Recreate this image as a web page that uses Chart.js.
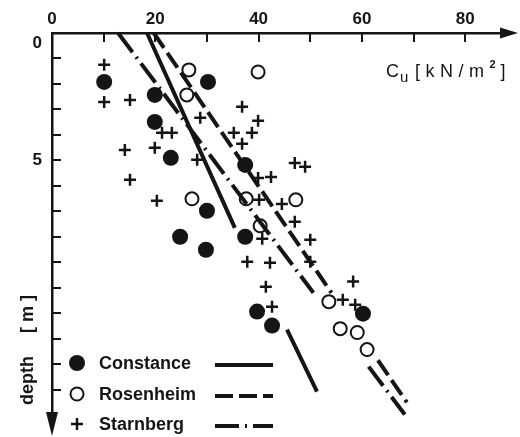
<!DOCTYPE html>
<html>
<head>
<meta charset="utf-8">
<script src="https://cdn.jsdelivr.net/npm/chart.js@4.4.1/dist/chart.umd.min.js"></script>
<style>
  body { margin: 0; background: #fff; }
  #wrap { width: 520px; height: 437px; }
</style>
</head>
<body>
<div id="wrap"><canvas id="cuChart"></canvas></div>
<script>
// undrained shear strength Cu [kN/m2] against depth [m]
const xLabelTicks = [0, 20, 40, 60, 80];
const yLabelTicks = [0, 5];

const constanceCu    = [10.1, 19.9, 30.2, 19.9, 23.0, 37.4, 30.0, 24.8, 37.4, 29.8, 39.7, 42.6, 60.2];
const constanceDepth = [1.92, 2.43, 1.92, 3.49, 4.90, 5.18, 6.98, 8.00, 8.00, 8.51, 10.94, 11.49, 11.02];

const rosenheimCu    = [26.5, 26.1, 39.9, 27.1, 37.6, 47.2, 40.3, 53.6, 55.8, 59.1, 61.0];
const rosenheimDepth = [1.45, 2.43, 1.53, 6.51, 6.51, 6.55, 7.57, 10.55, 11.61, 11.76, 12.43];

const starnbergCu    = [10.1, 10.1, 15.1, 36.8, 28.7, 39.9, 21.3, 23.2, 35.2, 38.7, 36.8, 14.1, 19.9, 28.1, 47.0, 49.0, 15.1,
                        39.9, 42.4, 20.3, 40.1, 44.5, 47.0, 40.7, 50.0, 37.8, 42.2, 50.0, 41.4, 42.6, 58.3, 56.3, 58.7];
const starnbergDepth = [1.25, 2.71, 2.63, 2.90, 3.33, 3.45, 3.92, 3.92, 3.92, 3.92, 4.35, 4.59, 4.51, 4.98, 5.10, 5.25, 5.76,
                        5.69, 5.65, 6.59, 6.55, 6.71, 7.41, 8.08, 8.12, 8.98, 9.02, 8.98, 9.96, 10.75, 9.76, 10.47, 10.67];

// trend lines, null = break in the line
const constanceLineCu    = [18.4, 35.4, null, 45.5, 51.3];
const constanceLineDepth = [0, 7.65, null, 11.65, 14.08];
const rosenheimLineCu    = [19.7, 54.1, null, 63.1, 68.7];
const rosenheimLineDepth = [0, 10.2, null, 12.85, 14.5];
const starnbergLineCu    = [12.8, 50.6, null, 61.3, 68.3];
const starnbergLineDepth = [0, 10.2, null, 13.1, 14.98];

const ink = '#151515';
const font = '"Liberation Sans", Arial, sans-serif';

const pts = (xs, ys) => xs.map((x, i) => ({ x: x, y: ys[i] }));

const markerStyles = [
  { label: 'Constance', pointStyle: 'circle', pointRadius: 8, pointBackgroundColor: ink, pointBorderWidth: 0 },
  { label: 'Rosenheim', pointStyle: 'circle', pointRadius: 6.5, pointBackgroundColor: 'rgba(0,0,0,0)', pointBorderWidth: 2 },
  { label: 'Starnberg', pointStyle: 'cross', pointRadius: 6, pointBackgroundColor: ink, pointBorderWidth: 2.5 }
];
const lineDashes = [[], [18, 6], [24, 6, 2, 6]];

function markerSet(i, xs, ys) {
  return Object.assign({
    type: 'scatter',
    data: pts(xs, ys),
    pointBorderColor: ink,
    showLine: false
  }, markerStyles[i]);
}

function lineSet(i, xs, ys) {
  return {
    type: 'line',
    label: markerStyles[i].label + ' line',
    data: pts(xs, ys),
    borderColor: ink,
    borderWidth: 4,
    borderDash: lineDashes[i],
    pointRadius: 0,
    spanGaps: false,
    clip: false
  };
}

// ticks pointing inwards, arrows, axis titles and legend
const decor = {
  id: 'decor',
  beforeDatasetsDraw(chart) {
    const { ctx, chartArea: a, scales: { x, y } } = chart;
    ctx.save();
    ctx.strokeStyle = ink;
    ctx.lineWidth = 2;
    ctx.beginPath();
    for (let v = 10; v <= 80; v += 10) {
      const px = Math.round(x.getPixelForValue(v));
      ctx.moveTo(px, a.top); ctx.lineTo(px, a.top + 9);
    }
    for (let d = 1; d <= 14; d++) {
      const py = Math.round(y.getPixelForValue(d));
      ctx.moveTo(a.left, py); ctx.lineTo(a.left + 9, py);
    }
    ctx.stroke();
    ctx.restore();
  },
  afterDraw(chart) {
    const { ctx, chartArea: a } = chart;
    ctx.save();
    ctx.fillStyle = ink;
    ctx.strokeStyle = ink;

    // arrow heads
    ctx.lineWidth = 2.5;
    ctx.beginPath();
    ctx.moveTo(a.right - 2, a.top); ctx.lineTo(a.right + 2, a.top);
    ctx.moveTo(a.left, a.bottom - 2); ctx.lineTo(a.left, a.bottom + 2);
    ctx.stroke();
    ctx.beginPath();
    ctx.moveTo(a.right - 5, a.top - 5.5); ctx.lineTo(a.right + 13, a.top); ctx.lineTo(a.right - 5, a.top + 5.5);
    ctx.closePath(); ctx.fill();
    ctx.beginPath();
    ctx.moveTo(a.left - 6, a.bottom - 3); ctx.lineTo(a.left, a.bottom + 21); ctx.lineTo(a.left + 6, a.bottom - 3);
    ctx.closePath(); ctx.fill();

    // x title: Cu [kN/m2]
    ctx.textBaseline = 'alphabetic';
    ctx.textAlign = 'left';
    ctx.font = '18px ' + font;
    ctx.fillText('C', 386, 77);
    ctx.font = '15px ' + font;
    ctx.fillText('u', 400, 82);
    ctx.font = '18px ' + font;
    ctx.letterSpacing = '5.5px';
    ctx.fillText('[kN/m', 415, 77);
    let tx = 415 + ctx.measureText('[kN/m').width;
    ctx.letterSpacing = '0px';
    ctx.font = 'bold 11px ' + font;
    ctx.fillText('2', tx, 68);
    ctx.font = '18px ' + font;
    ctx.fillText(']', tx + 11, 77);

    // y title, rotated
    ctx.save();
    ctx.translate(33, 0);
    ctx.rotate(-Math.PI / 2);
    ctx.font = 'bold 18px ' + font;
    ctx.fillText('depth', -405, 0);
    ctx.fillText('[ m ]', -333, 0);
    ctx.restore();

    // legend: marker, name and line sample for each site
    const rows = [363, 394, 424];
    ctx.font = 'bold 18px ' + font;
    ctx.textBaseline = 'middle';
    markerStyles.forEach((m, i) => {
      const ry = rows[i];
      ctx.lineWidth = m.pointBorderWidth;
      if (m.pointStyle === 'cross') {
        ctx.beginPath();
        ctx.moveTo(77 - m.pointRadius, ry); ctx.lineTo(77 + m.pointRadius, ry);
        ctx.moveTo(77, ry - m.pointRadius); ctx.lineTo(77, ry + m.pointRadius);
        ctx.stroke();
      } else {
        ctx.beginPath();
        ctx.arc(77, ry, m.pointRadius, 0, Math.PI * 2);
        if (m.pointBorderWidth) ctx.stroke(); else ctx.fill();
      }
      ctx.fillText(m.label, 99, ry + 1);
      ctx.lineWidth = 4;
      ctx.setLineDash(lineDashes[i]);
      ctx.beginPath();
      ctx.moveTo(215, ry + 2); ctx.lineTo(273, ry + 2);
      ctx.stroke();
      ctx.setLineDash([]);
    });
    ctx.restore();
  }
};

new Chart(document.getElementById('cuChart'), {
  type: 'scatter',
  data: {
    datasets: [
      markerSet(0, constanceCu, constanceDepth),
      markerSet(1, rosenheimCu, rosenheimDepth),
      markerSet(2, starnbergCu, starnbergDepth),
      lineSet(0, constanceLineCu, constanceLineDepth),
      lineSet(1, rosenheimLineCu, rosenheimLineDepth),
      lineSet(2, starnbergLineCu, starnbergLineDepth)
    ]
  },
  options: {
    responsive: true,
    maintainAspectRatio: false,
    animation: false,
    layout: { padding: { top: 0, left: 0, right: 15, bottom: 22 } },
    plugins: {
      legend: { display: false },
      tooltip: { enabled: false }
    },
    scales: {
      x: {
        type: 'linear',
        position: 'top',
        min: 0,
        max: 87.7,
        afterFit: s => { s.height = 33; },
        grid: { display: false },
        border: { display: true, color: ink, width: 2.5 },
        ticks: {
          stepSize: 10,
          includeBounds: false,
          autoSkip: false,
          maxRotation: 0,
          padding: -5,
          color: ink,
          font: { family: font, size: 17, weight: 'bold' },
          callback: v => xLabelTicks.includes(v) ? String(v) : ''
        }
      },
      y: {
        type: 'linear',
        reverse: true,
        min: 0,
        max: 15,
        afterFit: s => { s.width = 52; },
        grid: { display: false },
        border: { display: true, color: ink, width: 2.5 },
        ticks: {
          stepSize: 1,
          includeBounds: false,
          autoSkip: false,
          padding: 2,
          color: ink,
          font: { family: font, size: 17, weight: 'bold' },
          callback: v => v === 0 ? ['', '0'] : (yLabelTicks.includes(v) ? String(v) : '')
        }
      }
    }
  },
  plugins: [decor]
});
</script>
</body>
</html>
